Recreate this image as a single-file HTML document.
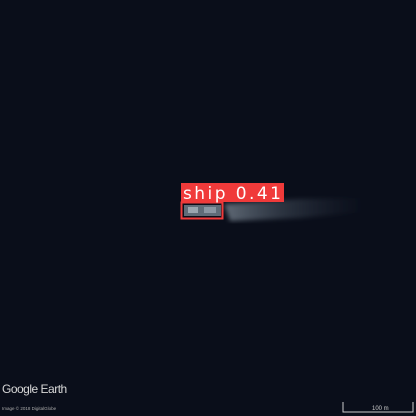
<!DOCTYPE html>
<html><head><meta charset="utf-8"><style>
html,body{margin:0;padding:0;}
body{width:416px;height:416px;overflow:hidden;background:#0a0e1a;position:relative;font-family:"Liberation Sans",sans-serif;}
</style></head><body>
<svg width="416" height="416" style="position:absolute;left:0;top:0">
<defs>
<linearGradient id="wake" x1="0" x2="1">
<stop offset="0" stop-color="#9aa8b4" stop-opacity="0.6"/>
<stop offset="0.4" stop-color="#6d7c8a" stop-opacity="0.35"/>
<stop offset="1" stop-color="#3a4655" stop-opacity="0"/>
</linearGradient>
<filter id="blur"><feGaussianBlur stdDeviation="2.5"/></filter>
</defs>
<rect width="416" height="416" fill="#0a0e1a"/>
<path d="M224,204 L300,199 L365,198 L365,212 L300,218 L230,221 Z" fill="url(#wake)" filter="url(#blur)"/>
<rect x="184" y="205" width="37" height="11" fill="#5f6c78"/>
<rect x="188" y="207" width="10" height="6" fill="#9aa6b0"/>
<rect x="204" y="207" width="12" height="6" fill="#8a96a2"/>
<rect x="181.5" y="202.5" width="41" height="16" fill="none" stroke="#f03a3a" stroke-width="2"/>
<rect x="181" y="183" width="103" height="19" fill="#f03a3a"/>
<text x="183" y="199" font-size="17" fill="#ffffff" font-family="DejaVu Sans, sans-serif" textLength="98">ship 0.41</text>
<text x="2" y="393" font-size="12" fill="#d8d8d8" letter-spacing="-0.5">Google Earth</text>
<text x="2" y="410" font-size="4.5" fill="#aaaaaa">Image © 2018 DigitalGlobe</text>
<path d="M343,402 V412 H413 V402" fill="none" stroke="#cccccc" stroke-width="1"/>
<text x="372" y="410" font-size="6" fill="#cccccc">100 m</text>
</svg>
</body></html>
